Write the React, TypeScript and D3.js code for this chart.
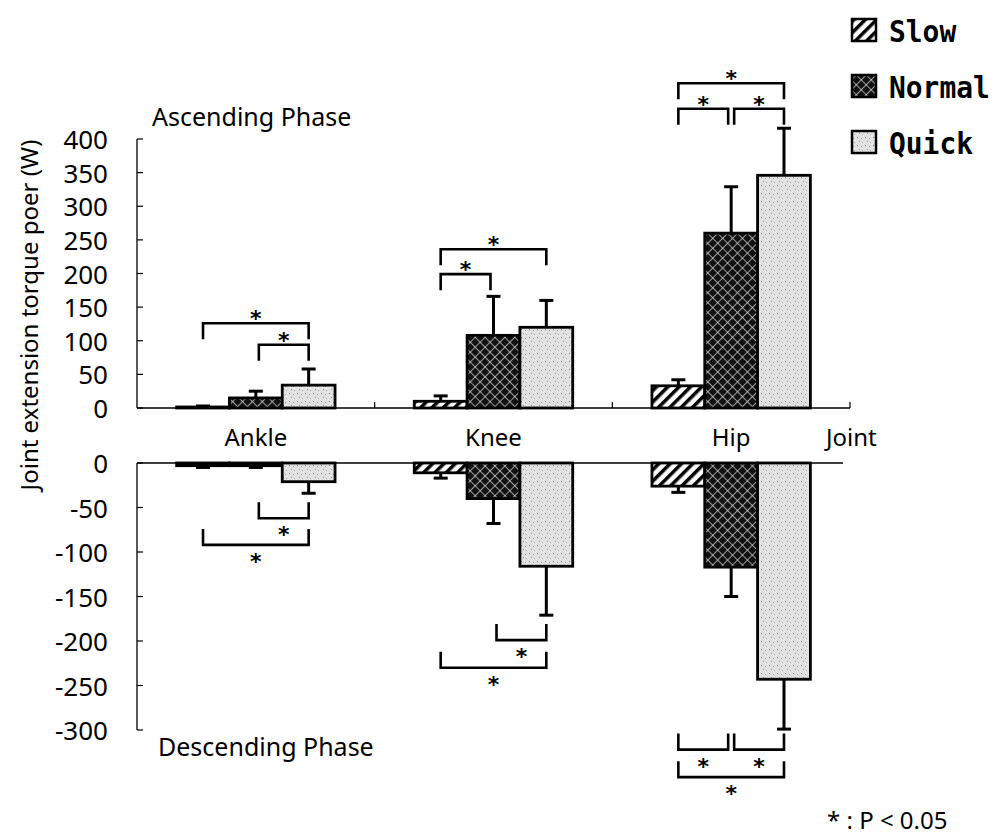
import React from "react";
import * as d3 from "d3";

// Joints on the x axis and the three movement speeds
const joints = ["Ankle", "Knee", "Hip"];
const speeds = ["Slow", "Normal", "Quick"];

// Ascending phase: mean joint extension torque power (W) and SD
const ascendingSlow = [1.5, 10, 33];
const ascendingNormal = [15, 108, 260];
const ascendingQuick = [34, 120, 346];
const ascendingSlowSD = [1.5, 8, 9];
const ascendingNormalSD = [10, 58, 69];
const ascendingQuickSD = [24, 40, 70];

// Descending phase: mean joint extension torque power (W) and SD
const descendingSlow = [-3, -11, -26];
const descendingNormal = [-3, -40, -117];
const descendingQuick = [-21, -116, -243];
const descendingSlowSD = [2, 6, 7];
const descendingNormalSD = [2, 28, 33];
const descendingQuickSD = [13, 55, 56];

// Tick values
const ascendingTicks = [0, 50, 100, 150, 200, 250, 300, 350, 400];
const descendingTicks = [0, -50, -100, -150, -200, -250, -300];

// Significance brackets (P < 0.05): joint, pair of speeds, bracket level (W)
const ascendingBrackets = [
  { joint: "Ankle", from: "Slow", to: "Quick", level: 126 },
  { joint: "Ankle", from: "Normal", to: "Quick", level: 94 },
  { joint: "Knee", from: "Slow", to: "Normal", level: 199 },
  { joint: "Knee", from: "Slow", to: "Quick", level: 236 },
  { joint: "Hip", from: "Slow", to: "Normal", level: 445 },
  { joint: "Hip", from: "Normal", to: "Quick", level: 445 },
  { joint: "Hip", from: "Slow", to: "Quick", level: 483 },
];
const descendingBrackets = [
  { joint: "Ankle", from: "Normal", to: "Quick", level: -62 },
  { joint: "Ankle", from: "Slow", to: "Quick", level: -92 },
  { joint: "Knee", from: "Normal", to: "Quick", level: -199 },
  { joint: "Knee", from: "Slow", to: "Quick", level: -230 },
  { joint: "Hip", from: "Slow", to: "Normal", level: -322 },
  { joint: "Hip", from: "Normal", to: "Quick", level: -322 },
  { joint: "Hip", from: "Slow", to: "Quick", level: -353 },
];

const ascending = [ascendingSlow, ascendingNormal, ascendingQuick];
const ascendingSD = [ascendingSlowSD, ascendingNormalSD, ascendingQuickSD];
const descending = [descendingSlow, descendingNormal, descendingQuick];
const descendingSD = [descendingSlowSD, descendingNormalSD, descendingQuickSD];

const W = 996;
const H = 839;
const FONT = "'Noto Sans', 'Open Sans', sans-serif";
const MONO = "'DejaVu Sans Mono', monospace";

const axisX0 = 137;
const axisX1 = 850;

const xOuter = d3.scaleBand<string>().domain(joints).range([axisX0, axisX1]);
const xInner = d3
  .scaleBand<string>()
  .domain(speeds)
  .range([0, xOuter.bandwidth()])
  .paddingInner(0)
  .paddingOuter(0.75);

const yUp = d3.scaleLinear().domain([0, 400]).range([408, 139]);
const yDown = d3.scaleLinear().domain([-300, 0]).range([730, 463]);

const fillFor: Record<string, string> = {
  Slow: "url(#pat-slow)",
  Normal: "url(#pat-normal)",
  Quick: "url(#pat-quick)",
};

const barX = (j: string, s: string) => (xOuter(j) as number) + (xInner(s) as number);
const barCenter = (j: string, s: string) => barX(j, s) + xInner.bandwidth() / 2;

// Leg x for a bracket end; legs sitting on the middle bar shift toward the partner bar
function legX(j: string, s: string, other: string) {
  const c = barCenter(j, s);
  if (s !== "Normal") return c;
  return speeds.indexOf(other) > speeds.indexOf(s) ? c + 3 : c - 3;
}

function Star({ x, y }: { x: number; y: number }) {
  return (
    <text x={x} y={y + 13} textAnchor="middle" fontFamily="'DejaVu Sans', sans-serif" fontWeight="bold" fontSize={22}>
      *
    </text>
  );
}

export default function App() {
  const bw = xInner.bandwidth();
  const capW = 14;
  const legLen = 16;

  return (
    <svg width={W} height={H} style={{ position: "absolute", left: 0, top: 0, background: "#fff" }}>
      <defs>
        <pattern id="pat-slow" patternUnits="userSpaceOnUse" width={8} height={8} patternTransform="rotate(45)">
          <rect width={8} height={8} fill="#fff" />
          <rect x={0} y={0} width={3.5} height={8} fill="#000" />
        </pattern>
        <pattern id="pat-normal" patternUnits="userSpaceOnUse" width={7} height={7} patternTransform="rotate(45)">
          <rect width={7} height={7} fill="#111" />
          <line x1={0} y1={0} x2={0} y2={7} stroke="#e8e8e8" strokeWidth={1.3} />
          <line x1={0} y1={0} x2={7} y2={0} stroke="#e8e8e8" strokeWidth={1.3} />
        </pattern>
        <pattern id="pat-quick" patternUnits="userSpaceOnUse" width={8} height={8}>
          <rect width={8} height={8} fill="#e2e2e2" />
          <rect x={1} y={1} width={1} height={1} fill="#777" />
          <rect x={5} y={2} width={1} height={1} fill="#999" />
          <rect x={3} y={5} width={1} height={1} fill="#888" />
          <rect x={6} y={6} width={1} height={1} fill="#aaa" />
          <rect x={2} y={3} width={1} height={1} fill="#fff" />
          <rect x={6} y={4} width={1} height={1} fill="#fff" />
        </pattern>
      </defs>

      {/* Y axis title */}
      <text
        transform={`translate(28,315) rotate(-90)`}
        textAnchor="middle"
        dominantBaseline="central"
        fontFamily={FONT}
        fontSize={24}
      >
        Joint extension torque poer (W)
      </text>

      {/* Phase titles */}
      <text x={152} y={126} fontFamily={FONT} fontSize={25}>
        Ascending Phase
      </text>
      <text x={158} y={756} fontFamily={FONT} fontSize={25}>
        Descending Phase
      </text>

      {/* Upper (ascending) y axis */}
      <line x1={axisX0} x2={axisX0} y1={yUp(400)} y2={yUp(0)} stroke="#000" strokeWidth={1.3} />
      {ascendingTicks.map((t) => (
        <g key={"ut" + t}>
          <line x1={axisX0} x2={axisX0 + 6} y1={yUp(t)} y2={yUp(t)} stroke="#000" strokeWidth={1.2} />
          <text x={108} y={yUp(t)} textAnchor="end" dominantBaseline="central" fontFamily={FONT} fontSize={26}>
            {t}
          </text>
        </g>
      ))}

      {/* Lower (descending) y axis */}
      <line x1={axisX0} x2={axisX0} y1={yDown(0)} y2={yDown(-300)} stroke="#000" strokeWidth={1.3} />
      {descendingTicks.map((t) => (
        <g key={"dt" + t}>
          <line x1={axisX0} x2={axisX0 + 6} y1={yDown(t)} y2={yDown(t)} stroke="#000" strokeWidth={1.2} />
          <text x={108} y={yDown(t)} textAnchor="end" dominantBaseline="central" fontFamily={FONT} fontSize={26}>
            {t}
          </text>
        </g>
      ))}

      {/* Ascending bars */}
      {speeds.map((s, si) =>
        joints.map((j, ji) => {
          const v = ascending[si][ji];
          const sd = ascendingSD[si][ji];
          const x = barX(j, s);
          const cx = barCenter(j, s);
          return (
            <g key={"ab" + s + j}>
              <line x1={cx} x2={cx} y1={yUp(v)} y2={yUp(v + sd)} stroke="#000" strokeWidth={3} />
              <line x1={cx - capW / 2} x2={cx + capW / 2} y1={yUp(v + sd)} y2={yUp(v + sd)} stroke="#000" strokeWidth={3} />
              <rect
                x={x}
                y={yUp(v)}
                width={bw}
                height={yUp(0) - yUp(v)}
                fill={fillFor[s]}
                stroke="#000"
                strokeWidth={2.8}
              />
            </g>
          );
        })
      )}

      {/* Descending bars */}
      {speeds.map((s, si) =>
        joints.map((j, ji) => {
          const v = descending[si][ji];
          const sd = descendingSD[si][ji];
          const x = barX(j, s);
          const cx = barCenter(j, s);
          return (
            <g key={"db" + s + j}>
              <line x1={cx} x2={cx} y1={yDown(v)} y2={yDown(v - sd)} stroke="#000" strokeWidth={3} />
              <line x1={cx - capW / 2} x2={cx + capW / 2} y1={yDown(v - sd)} y2={yDown(v - sd)} stroke="#000" strokeWidth={3} />
              <rect
                x={x}
                y={yDown(0)}
                width={bw}
                height={yDown(v) - yDown(0)}
                fill={fillFor[s]}
                stroke="#000"
                strokeWidth={2.8}
              />
            </g>
          );
        })
      )}

      {/* Upper x axis baseline with category ticks */}
      <line x1={axisX0} x2={axisX1} y1={yUp(0)} y2={yUp(0)} stroke="#000" strokeWidth={1.3} />
      {joints.map((j) => {
        const xe = (xOuter(j) as number) + xOuter.bandwidth();
        return <line key={"xt" + j} x1={xe} x2={xe} y1={yUp(0)} y2={yUp(0) - 6} stroke="#000" strokeWidth={1.2} />;
      })}

      {/* Lower zero line */}
      <line x1={axisX0} x2={843} y1={yDown(0)} y2={yDown(0)} stroke="#000" strokeWidth={1.3} />

      {/* Joint labels */}
      {joints.map((j) => (
        <text
          key={"jl" + j}
          x={(xOuter(j) as number) + xOuter.bandwidth() / 2}
          y={446}
          textAnchor="middle"
          fontFamily={FONT}
          fontSize={24}
        >
          {j}
        </text>
      ))}
      <text x={826} y={446} fontFamily={FONT} fontSize={24}>
        Joint
      </text>

      {/* Ascending significance brackets */}
      {ascendingBrackets.map((b, i) => {
        const x1 = legX(b.joint, b.from, b.to);
        const x2 = legX(b.joint, b.to, b.from);
        const y = yUp(b.level);
        return (
          <g key={"abk" + i}>
            <path
              d={`M${x1},${y + legLen}V${y}H${x2}V${y + legLen}`}
              fill="none"
              stroke="#000"
              strokeWidth={2.6}
            />
            <Star x={(x1 + x2) / 2} y={y - 10} />
          </g>
        );
      })}

      {/* Descending significance brackets */}
      {descendingBrackets.map((b, i) => {
        const x1 = legX(b.joint, b.from, b.to);
        const x2 = legX(b.joint, b.to, b.from);
        const y = yDown(b.level);
        return (
          <g key={"dbk" + i}>
            <path
              d={`M${x1},${y - legLen}V${y}H${x2}V${y - legLen}`}
              fill="none"
              stroke="#000"
              strokeWidth={2.6}
            />
            <Star x={(x1 + x2) / 2} y={y + 11} />
          </g>
        );
      })}

      {/* Legend */}
      {speeds.map((s, i) => {
        const cy = 30 + i * 56;
        return (
          <g key={"lg" + s}>
            <rect x={852} y={cy - 11} width={24} height={22} fill={fillFor[s]} stroke="#000" strokeWidth={2.5} />
            <text
              transform={`translate(889,${cy + 12}) scale(0.9,1)`}
              fontFamily={MONO}
              fontWeight="bold"
              fontSize={31}
            >
              {s}
            </text>
          </g>
        );
      })}

      {/* Significance note */}
      <text x={827} y={829} fontFamily={FONT} fontSize={24}>
        * : P &lt; 0.05
      </text>
    </svg>
  );
}
